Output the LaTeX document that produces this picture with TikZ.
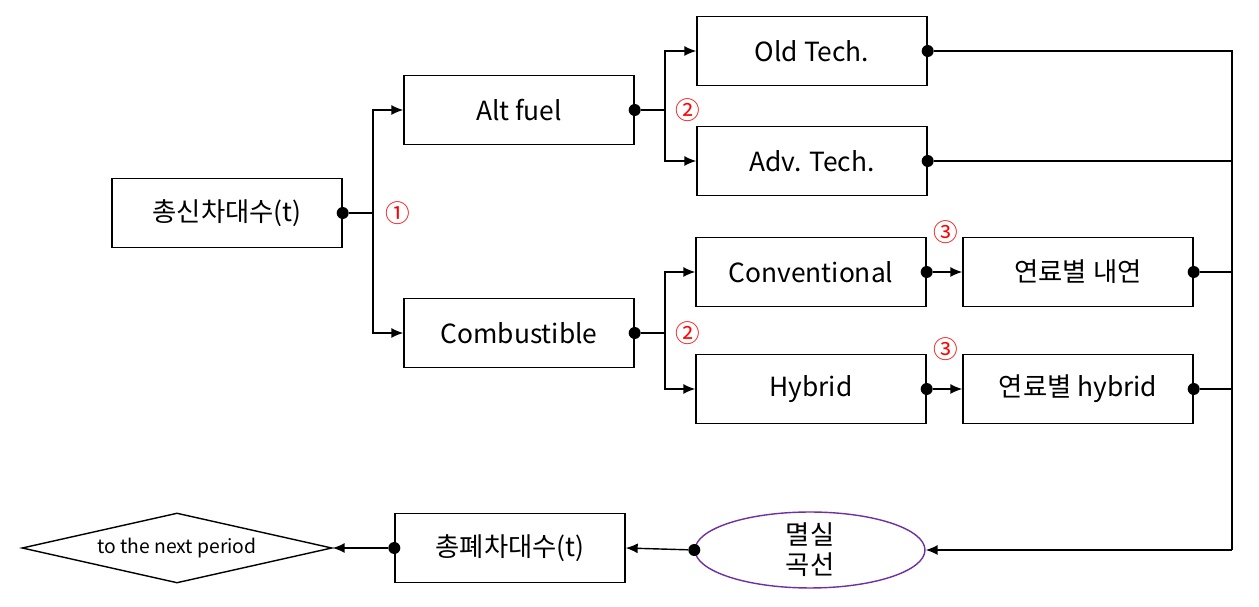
\documentclass[tikz,border=0pt]{standalone}
\usepackage{fontspec}
\setmainfont{Noto Sans CJK KR}
\usetikzlibrary{arrows.meta,shapes.geometric}
\tikzset{
  box/.style={draw,thick,minimum width=4.6cm,minimum height=1.38cm,inner sep=0pt,font=\fontsize{15}{18}\selectfont},
  arr/.style={-{Latex[length=2.4mm,width=2mm]},thick},
  ln/.style={thick},
  dot/.style={circle,fill,inner sep=0pt,minimum size=2.4mm},
  num/.style={text=red,font=\fontsize{14}{16}\selectfont}
}
\begin{document}
\begin{tikzpicture}[x=0.02cm,y=-0.02cm]
	\useasboundingbox (0,0) rectangle (1259,607);

	% boxes
	\node[box] (new) at (227,213) {총신차대수(t)};
	\node[box] (alt) at (519,110) {Alt fuel};
	\node[box] (comb) at (519,333) {Combustible};
	\node[box] (old) at (812,51) {Old Tech.};
	\node[box] (adv) at (812,161) {Adv. Tech.};
	\node[box] (conv) at (811,272) {Conventional};
	\node[box] (hyb) at (811,389) {Hybrid};
	\node[box] (fconv) at (1078,272) {연료별 내연};
	\node[box] (fhyb) at (1078,389) {연료별 hybrid};
	\node[box] (scrap) at (510,548) {총폐차대수(t)};
	\node[draw,ellipse,thick,draw={rgb,255:red,112;green,48;blue,160},minimum width=4.6cm,minimum height=1.4cm,inner sep=0pt,align=center,font=\fontsize{15}{17}\selectfont] (curve) at (810,550) {멸실\\곡선};
	\node[draw,diamond,thick,aspect=4.4,minimum width=6.2cm,minimum height=1.4cm,inner sep=0pt,font=\fontsize{11}{13}\selectfont] (next) at (177,548) {to the next period};

	% split 1
	\node[dot] (d1) at (new.east) {};
	\coordinate (s1) at (373,213);
	\draw[ln] (d1) -- (s1);
	\draw[arr] (s1) |- (alt.west);
	\draw[arr] (s1) |- (comb.west);
	\node[num] (n1) at (398,213) {①};

	% split 2
	\node[dot] (d2) at (alt.east) {};
	\coordinate (s2) at (665,110);
	\draw[ln] (d2) -- (s2);
	\draw[arr] (s2) |- (old.west);
	\draw[arr] (s2) |- (adv.west);
	\node[num] (n2) at (688,110) {②};

	\node[dot] (d3) at (comb.east) {};
	\coordinate (s3) at (665,333);
	\draw[ln] (d3) -- (s3);
	\draw[arr] (s3) |- (conv.west);
	\draw[arr] (s3) |- (hyb.west);
	\node[num] (n3) at (688,333) {②};

	% split 3
	\node[dot] (d4) at (conv.east) {};
	\draw[arr] (d4) -- (fconv.west);
	\node[num] (n4) at (946,232) {③};
	\node[dot] (d5) at (hyb.east) {};
	\draw[arr] (d5) -- (fhyb.west);
	\node[num] (n5) at (946,349) {③};

	% collect
	\coordinate (b0) at (1232,51);
	\coordinate (b1) at (1232,550);
	\node[dot] (e1) at (old.east) {};
	\node[dot] (e2) at (adv.east) {};
	\node[dot] (e3) at (fconv.east) {};
	\node[dot] (e4) at (fhyb.east) {};
	\draw[ln] (e1) -- (b0) -- (b1);
	\draw[ln] (e2) -- (1232,161);
	\draw[ln] (e3) -- (1232,272);
	\draw[ln] (e4) -- (1232,389);
	\draw[arr] (b1) -- (curve.east);

	% scrapped
	\node[dot] (e5) at (curve.west) {};
	\draw[arr] (e5) -- (scrap.east);
	\node[dot] (e6) at (scrap.west) {};
	\draw[arr] (e6) -- (next.east);
\end{tikzpicture}
\end{document}
